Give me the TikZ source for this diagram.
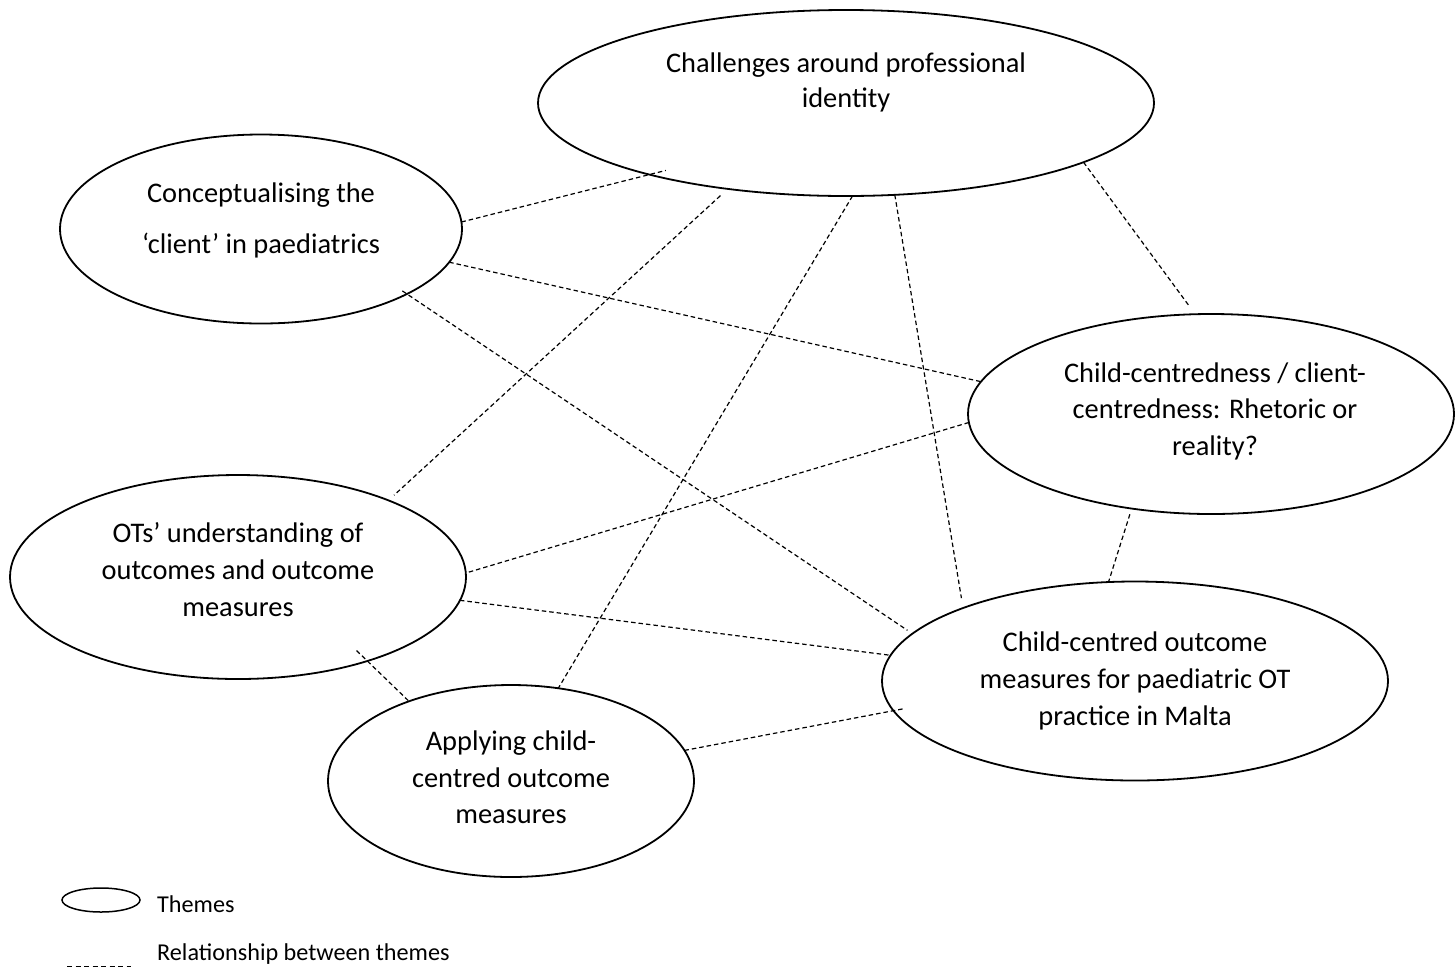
\documentclass[tikz,border=0pt]{standalone}
\usepackage{fontspec}
\setmainfont{Carlito}
\usetikzlibrary{shapes.geometric}
\begin{document}
\begin{tikzpicture}[x=1pt,y=-1pt,
  theme/.style={draw, ellipse, line width=1.8pt, inner sep=0pt, outer sep=0pt},
  rel/.style={line width=1.2pt, dash pattern=on 4.5pt off 3pt},
  lbl/.style={anchor=base, inner sep=0pt, font=\fontsize{28.4}{34}\selectfont},
  key/.style={anchor=base west, inner sep=0pt, font=\fontsize{24.2}{29}\selectfont}]
\useasboundingbox (0,0) rectangle (1455,970);

% themes
\node[theme, minimum width=616pt, minimum height=186pt] (chal) at (846,103) {};
\node[theme, minimum width=402pt, minimum height=189pt] (conc) at (261,229) {};
\node[theme, minimum width=486pt, minimum height=200pt] (ccr) at (1211,414) {};
\node[theme, minimum width=456pt, minimum height=204pt] (ots) at (238,577) {};
\node[theme, minimum width=506pt, minimum height=199pt] (com) at (1135,681) {};
\node[theme, minimum width=366pt, minimum height=192pt] (app) at (511,781) {};

% theme titles
\node[lbl] (chal1) at (846,72) {Challenges around professional};
\node[lbl] (chal2) at (846,107) {identity};
\node[lbl] (conc1) at (261,202) {Conceptualising the};
\node[lbl] (conc2) at (261,253) {‘client’ in paediatrics};
\node[lbl] (ccr1) at (1215,382) {Child-centredness / client-};
\node[lbl] (ccr2) at (1215,418) {centredness: Rhetoric or};
\node[lbl] (ccr3) at (1215,455) {reality?};
\node[lbl] (ots1) at (238,542) {OTs’ understanding of};
\node[lbl] (ots2) at (238,579) {outcomes and outcome};
\node[lbl] (ots3) at (238,616) {measures};
\node[lbl] (com1) at (1135,651) {Child-centred outcome};
\node[lbl] (com2) at (1135,688) {measures for paediatric OT};
\node[lbl] (com3) at (1135,725) {practice in Malta};
\node[lbl] (app1) at (511,750) {Applying child-};
\node[lbl] (app2) at (511,787) {centred outcome};
\node[lbl] (app3) at (511,823) {measures};

% relationships between themes
\draw[rel, shorten >=-17pt] (conc.2.6) -- (chal.200.3);
\draw[rel] (conc.350.3) -- (ccr.172.5);
\draw[rel, shorten <=-5.5pt, shorten >=6pt] (conc.336.6) -- (com.168.5);
\draw[rel, shorten <=10pt, shorten >=7.6pt] (chal.216) -- (ots.27.2);
\draw[rel] (chal.274.3) -- (app.63.2);
\draw[rel, shorten >=10pt] (chal.298.1) -- (com.157.2);
\draw[rel, shorten >=11pt] (chal.346.4) -- (ccr.99.2);
\draw[rel] (ccr.182.4) -- (ots.1.8);
\draw[rel, shorten <=6pt] (ccr.230) -- (com.105);
\draw[rel] (ots.354.2) -- (com.174.1);
\draw[rel, shorten <=-15pt] (ots.327.1) -- (app.142.4);
\draw[rel, shorten >=-11pt] (app.10.2) -- (com.187.8);

% key
\node[theme, line width=1.5pt, minimum width=78pt, minimum height=24pt] (keytheme) at (101,900) {};
\node[key] (keytxt1) at (157,912) {Themes};
\coordinate (keya) at (67,966);
\coordinate (keyb) at (131,966);
\draw[rel, line width=1pt, dash pattern=on 5pt off 3.5pt] (keya) -- (keyb);
\node[key] (keytxt2) at (157,960) {Relationship between themes};
\end{tikzpicture}
\end{document}
